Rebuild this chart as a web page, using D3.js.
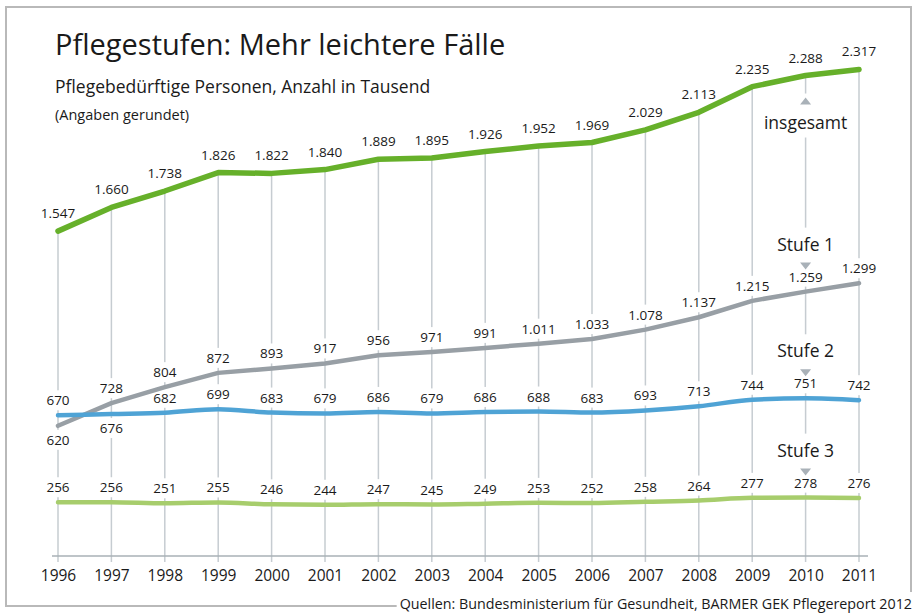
<!DOCTYPE html>
<html>
<head>
<meta charset="utf-8">
<script src="https://cdn.jsdelivr.net/npm/d3@7"></script>
<style>
  body { margin: 0; background: #fff; }
  text { font-family: "Open Sans", "Noto Sans", sans-serif; fill: #1a1a1a; }
</style>
</head>
<body>
<svg id="chart" width="917" height="615"></svg>
<script>
// Pflegebeduerftige nach Pflegestufe, in Tausend
var years = [1996,1997,1998,1999,2000,2001,2002,2003,2004,2005,2006,2007,2008,2009,2010,2011];

var insgesamt = [1547,1660,1738,1826,1822,1840,1889,1895,1926,1952,1969,2029,2113,2235,2288,2317];
var stufe1 = [620,728,804,872,893,917,956,971,991,1011,1033,1078,1137,1215,1259,1299];
var stufe2 = [670,676,682,699,683,679,686,679,686,688,683,693,713,744,751,742];
var stufe3 = [256,256,251,255,246,244,247,245,249,253,252,258,264,277,278,276];

var seriesNames = ["insgesamt", "Stufe 1", "Stufe 2", "Stufe 3"];
// which value labels sit under the line (index of year)
var labelsBelow = { "Stufe 1": [0], "Stufe 2": [1] };
var annotYear = 2010;

var svg = d3.select("#chart");

var de = d3.formatLocale({ decimal: ",", thousands: ".", grouping: [3], currency: ["", " €"] });
var fmt = de.format(",d");

var x = d3.scalePoint()
  .domain(years)
  .range([58, 859]);

var y = d3.scaleLinear()
  .domain([0, 2400])
  .range([556, 52]);

var series = [
  { name: seriesNames[0], values: insgesamt, color: "#66b02a", width: 5.5, curve: d3.curveLinear },
  { name: seriesNames[1], values: stufe1, color: "#989fa5", width: 4.5, curve: d3.curveLinear },
  { name: seriesNames[2], values: stufe2, color: "#4fa3d5", width: 4.5, curve: d3.curveMonotoneX },
  { name: seriesNames[3], values: stufe3, color: "#a7cd6c", width: 4.5, curve: d3.curveMonotoneX }
];

// frame
svg.append("rect")
  .attr("x", 6).attr("y", 7)
  .attr("width", 905).attr("height", 599)
  .attr("fill", "none")
  .attr("stroke", "#b9b9b9")
  .attr("stroke-width", 2);

// titles
svg.append("text")
  .attr("x", 55).attr("y", 55)
  .style("font-size", "29px")
  .text("Pflegestufen: Mehr leichtere Fälle");

svg.append("text")
  .attr("x", 55).attr("y", 93)
  .style("font-size", "17.5px")
  .style("font-weight", 500)
  .text("Pflegebedürftige Personen, Anzahl in Tausend");

svg.append("text")
  .attr("x", 55).attr("y", 120)
  .style("font-size", "14.5px")
  .text("(Angaben gerundet)");

// vertical grid lines from axis up to total line
var grid = svg.append("g").attr("class", "grid");
grid.selectAll("line")
  .data(years)
  .enter().append("line")
  .attr("x1", function(d){ return x(d); })
  .attr("x2", function(d){ return x(d); })
  .attr("y1", y(0) + 6)
  .attr("y2", function(d, i){ return y(insgesamt[i]); })
  .attr("stroke", "#c6ccd1")
  .attr("stroke-width", 1.5);

// x axis
var x_axis = d3.axisBottom(x).tickSize(0).tickPadding(14);
var xg = svg.append("g")
  .attr("class", "x axis")
  .attr("transform", "translate(0," + y(0) + ")")
  .call(x_axis);
xg.select(".domain")
  .attr("d", "M52,0H868")
  .attr("stroke", "#a9b0b6")
  .attr("stroke-width", 1.5);
xg.selectAll(".tick text")
  .style("font-size", "15.5px")
  .attr("fill", "#1a1a1a")
  .style("font-family", "'Open Sans', sans-serif");

var bgLayer = svg.append("g");
var lineLayer = svg.append("g");
var textLayer = svg.append("g");

// lines
series.forEach(function(s){
  var line = d3.line()
    .x(function(d, i){ return x(years[i]); })
    .y(function(d){ return y(d); })
    .curve(s.curve);
  lineLayer.append("path")
    .datum(s.values)
    .attr("d", line)
    .attr("fill", "none")
    .attr("stroke", s.color)
    .attr("stroke-width", s.width)
    .attr("stroke-linecap", "round")
    .attr("stroke-linejoin", "round");
});

function whiteBehind(node, pad){
  var b = node.getBBox();
  bgLayer.append("rect")
    .attr("x", b.x - pad).attr("y", b.y - pad)
    .attr("width", b.width + pad * 2).attr("height", b.height + pad * 2)
    .attr("fill", "#fff");
}

// value labels
series.forEach(function(s){
  var below = labelsBelow[s.name] || [];
  s.values.forEach(function(v, i){
    var isBelow = below.indexOf(i) >= 0;
    var off = s.name === "insgesamt" ? 13 : 10;
    var t = textLayer.append("text")
      .attr("x", x(years[i]))
      .attr("y", isBelow ? y(v) + 19 : y(v) - off)
      .attr("text-anchor", "middle")
      .style("font-size", "13.5px")
      .style("font-weight", 500)
      .text(fmt(v));
    whiteBehind(t.node(), 1);
  });
});

// series name annotations at 2010 with small triangles
var ai = years.indexOf(annotYear);
var ax = x(annotYear);
series.forEach(function(s){
  var py = y(s.values[ai]);
  var up = s.name === "insgesamt";
  var dir = up ? 1 : -1;
  var tipY = py + dir * 22, baseY = py + dir * 29;
  var t = textLayer.append("text")
    .attr("x", ax)
    .attr("y", py + dir * 47 + 6)
    .attr("text-anchor", "middle")
    .style("font-size", "17.5px")
    .style("font-weight", 500)
    .text(s.name);
  var b = t.node().getBBox();
  var top = Math.min(b.y, tipY, baseY) - 4;
  var bot = Math.max(b.y + b.height, tipY, baseY) + 4;
  bgLayer.append("rect")
    .attr("x", b.x - 3).attr("y", top)
    .attr("width", b.width + 6).attr("height", bot - top)
    .attr("fill", "#fff");
  textLayer.append("path")
    .attr("d", "M" + ax + "," + tipY + "L" + (ax - 5.5) + "," + baseY + "L" + (ax + 5.5) + "," + baseY + "Z")
    .attr("fill", "#a9b1b8");
});

// source line
var src = svg.append("text")
  .attr("x", 912).attr("y", 609)
  .attr("text-anchor", "end")
  .style("font-size", "14.3px")
  .text("Quellen: Bundesministerium für Gesundheit, BARMER GEK Pflegereport 2012");
var sb = src.node().getBBox();
svg.insert("rect", "text")
  .attr("x", sb.x - 3).attr("y", sb.y - 2)
  .attr("width", 917 - sb.x + 3).attr("height", 615 - sb.y + 2)
  .attr("fill", "#fff");
</script>
</body>
</html>
